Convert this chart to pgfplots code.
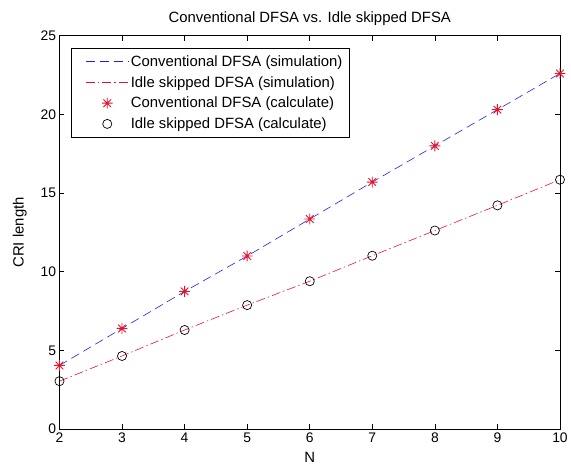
\documentclass[border=0pt]{standalone}
\usepackage{fontspec}
\setmainfont{Liberation Sans}
\usepackage{pgfplots}
\pgfplotsset{compat=1.18}

\definecolor{simblue}{RGB}{30,30,235}
\definecolor{simred}{RGB}{230,20,40}

% MATLAB-like asterisk: plus with a diagonal cross
\pgfdeclareplotmark{mstar}{%
  \pgfpathmoveto{\pgfqpoint{-\pgfplotmarksize}{0pt}}%
  \pgfpathlineto{\pgfqpoint{\pgfplotmarksize}{0pt}}%
  \pgfpathmoveto{\pgfqpoint{0pt}{-\pgfplotmarksize}}%
  \pgfpathlineto{\pgfqpoint{0pt}{\pgfplotmarksize}}%
  \pgfpathmoveto{\pgfqpoint{-0.7\pgfplotmarksize}{-0.7\pgfplotmarksize}}%
  \pgfpathlineto{\pgfqpoint{0.7\pgfplotmarksize}{0.7\pgfplotmarksize}}%
  \pgfpathmoveto{\pgfqpoint{-0.7\pgfplotmarksize}{0.7\pgfplotmarksize}}%
  \pgfpathlineto{\pgfqpoint{0.7\pgfplotmarksize}{-0.7\pgfplotmarksize}}%
  \pgfusepathqstroke}

\pgfplotstableread{
N conv idle
2 4.05 3.05
3 6.40 4.65
4 8.75 6.30
5 11.0 7.88
6 13.35 9.40
7 15.70 11.02
8 18.0 12.62
9 20.3 14.22
10 22.6 15.85
}\cridata

\begin{document}
\begin{tikzpicture}
\begin{axis}[
  name=ax,
  scale only axis,
  width=505bp, height=397bp,
  xmin=2, xmax=10, ymin=0, ymax=25,
  xtick={2,3,...,10},
  ytick={0,5,...,25},
  tick align=inside,
  major tick length=5bp,
  tick style={black, line width=0.6pt},
  axis line style={black, line width=0.6pt},
  font=\fontsize{15bp}{18bp}\selectfont,
  tick label style={font=\fontsize{14bp}{16bp}\selectfont},
  /pgf/number format/assume math mode=true,
  title={Conventional DFSA vs. Idle skipped DFSA},
  title style={at={(0.5,1)}, anchor=base, yshift=7bp},
  xlabel={N},
  ylabel={CRI length},
  xlabel style={at={(0.5,0)}, anchor=center, yshift=-28bp},
  ylabel style={at={(0,0.5)}, anchor=center, yshift=40bp},
  legend style={
    at={(rel axis cs:0.024,0.968)}, anchor=north west,
    draw=black, line width=0.6pt,
    font=\fontsize{15bp}{18bp}\selectfont,
    row sep=4.6bp, inner xsep=5bp, inner ysep=5bp,
    /tikz/every even column/.append style={column sep=1bp},
  },
  legend cell align=left,
  legend image code/.code={%
    \path (-9bp,0bp);
    \draw[mark repeat=2, mark phase=2, #1]
      plot coordinates {(0bp,0bp) (21.5bp,0bp) (43bp,0bp)};},
]
\addplot[simblue, dash pattern=on 9bp off 5bp, line width=0.6pt] table[x=N, y=conv] {\cridata};
\addlegendentry{Conventional DFSA (simulation)}
\addplot[simred, dash pattern=on 9bp off 3bp on 1.5bp off 3bp, line width=0.6pt] table[x=N, y=idle] {\cridata};
\addlegendentry{Idle skipped DFSA (simulation)}
\addplot[only marks, simred, mark=mstar, mark size=5.5bp, mark options={line width=0.9pt, solid}] table[x=N, y=conv] {\cridata};
\addlegendentry{Conventional DFSA (calculate)}
\addplot[only marks, black, mark=o, mark size=4.6bp, mark options={line width=0.7pt, solid}] table[x=N, y=idle] {\cridata};
\addlegendentry{Idle skipped DFSA (calculate)}
\end{axis}
\path[use as bounding box] ([xshift=-60bp,yshift=-38bp]ax.south west) rectangle ([xshift=6bp,yshift=36bp]ax.north east);
\end{tikzpicture}
\end{document}
